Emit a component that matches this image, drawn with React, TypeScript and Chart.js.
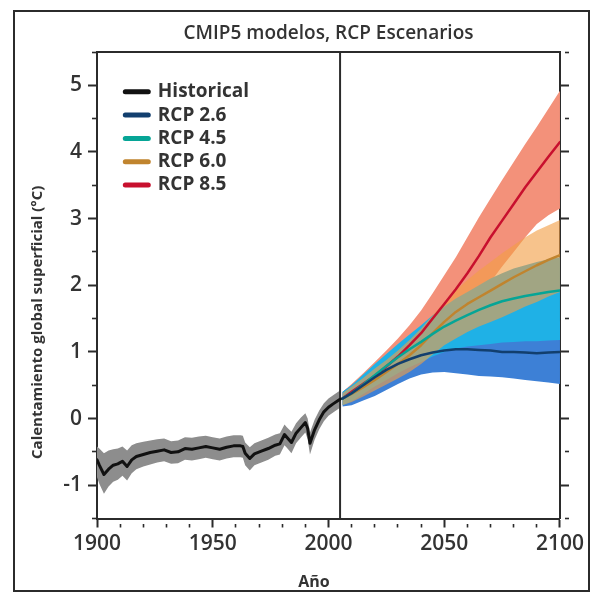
import React, { useEffect, useRef } from 'react';
import { Chart, registerables } from 'chart.js';

Chart.register(...registerables);

// ---------- data ----------
const titleText = 'CMIP5 modelos, RCP Escenarios';
const yTitle = 'Calentamiento global superficial (°C)';
const xTitle = 'Año';

const xTickValues = [1900, 1910, 1920, 1930, 1940, 1950, 1960, 1970, 1980, 1990, 2000, 2010, 2020, 2030, 2040, 2050, 2060, 2070, 2080, 2090, 2100];
const xLabelValues = [1900, 1950, 2000, 2050, 2100];
const yTickValues = [-1.5, -1, -0.5, 0, 0.5, 1, 1.5, 2, 2.5, 3, 3.5, 4, 4.5, 5, 5.5];
const yLabelValues = [-1, 0, 1, 2, 3, 4, 5];
const dividerYear = 2005;

const legendLabels = ['Historical', 'RCP 2.6', 'RCP 4.5', 'RCP 6.0', 'RCP 8.5'];

const histYears = [1900, 1901, 1903, 1905, 1907, 1909, 1911, 1913, 1915, 1917, 1920, 1923, 1926, 1929, 1932, 1935, 1938, 1941, 1944, 1947, 1950, 1953, 1956, 1959, 1962, 1963, 1964, 1966, 1968, 1971, 1974, 1977, 1979, 1981, 1982, 1984, 1986, 1988, 1990, 1991, 1992, 1994, 1996, 1998, 2000, 2002, 2005];
const histMean = [-0.62, -0.70, -0.84, -0.76, -0.70, -0.68, -0.64, -0.72, -0.62, -0.57, -0.54, -0.51, -0.49, -0.47, -0.51, -0.50, -0.45, -0.46, -0.44, -0.42, -0.44, -0.46, -0.43, -0.41, -0.41, -0.42, -0.52, -0.60, -0.53, -0.49, -0.45, -0.40, -0.38, -0.24, -0.28, -0.36, -0.22, -0.14, -0.06, -0.15, -0.37, -0.17, -0.02, 0.10, 0.17, 0.22, 0.29];
const histLow = [-0.88, -0.98, -1.13, -1.02, -0.95, -0.92, -0.86, -0.93, -0.82, -0.76, -0.72, -0.69, -0.66, -0.64, -0.68, -0.67, -0.62, -0.63, -0.61, -0.59, -0.61, -0.63, -0.60, -0.58, -0.58, -0.59, -0.70, -0.78, -0.70, -0.66, -0.62, -0.56, -0.54, -0.40, -0.44, -0.52, -0.37, -0.29, -0.21, -0.31, -0.54, -0.32, -0.16, -0.04, 0.04, 0.09, 0.16];
const histHigh = [-0.42, -0.45, -0.52, -0.48, -0.46, -0.45, -0.42, -0.48, -0.40, -0.37, -0.35, -0.33, -0.31, -0.30, -0.34, -0.33, -0.28, -0.29, -0.27, -0.26, -0.28, -0.30, -0.27, -0.25, -0.25, -0.26, -0.36, -0.43, -0.37, -0.33, -0.29, -0.24, -0.22, -0.09, -0.13, -0.20, -0.07, 0.01, 0.08, 0.00, -0.21, -0.02, 0.12, 0.23, 0.30, 0.35, 0.42];

const futYears = [2006, 2010, 2015, 2020, 2025, 2030, 2035, 2040, 2045, 2050, 2055, 2060, 2065, 2070, 2075, 2080, 2085, 2090, 2095, 2100];

const rcp26Mean = [0.30, 0.38, 0.50, 0.62, 0.73, 0.82, 0.89, 0.95, 0.99, 1.02, 1.04, 1.04, 1.03, 1.02, 1.00, 1.00, 0.99, 0.98, 0.99, 1.00];
const rcp26High = [0.40, 0.50, 0.65, 0.80, 0.93, 1.05, 1.14, 1.22, 1.28, 1.32, 1.35, 1.38, 1.39, 1.40, 1.41, 1.42, 1.43, 1.44, 1.45, 1.46];
const rcp26Low = [0.18, 0.20, 0.27, 0.34, 0.43, 0.52, 0.60, 0.66, 0.69, 0.70, 0.68, 0.66, 0.64, 0.63, 0.62, 0.60, 0.58, 0.56, 0.54, 0.52];

const rcp45Mean = [0.30, 0.38, 0.51, 0.65, 0.79, 0.92, 1.04, 1.15, 1.27, 1.38, 1.47, 1.55, 1.63, 1.70, 1.76, 1.80, 1.84, 1.87, 1.90, 1.92];
const rcp45High = [0.40, 0.50, 0.66, 0.82, 0.97, 1.12, 1.26, 1.40, 1.55, 1.68, 1.80, 1.90, 2.00, 2.10, 2.18, 2.25, 2.30, 2.35, 2.39, 2.42];
const rcp45Low = [0.20, 0.26, 0.37, 0.48, 0.58, 0.68, 0.77, 0.85, 0.93, 1.00, 1.05, 1.08, 1.10, 1.12, 1.14, 1.15, 1.16, 1.16, 1.17, 1.18];

const rcp60Mean = [0.30, 0.37, 0.47, 0.58, 0.70, 0.82, 0.95, 1.10, 1.28, 1.45, 1.60, 1.72, 1.82, 1.92, 2.02, 2.12, 2.21, 2.30, 2.38, 2.45];
const rcp60High = [0.38, 0.48, 0.61, 0.75, 0.88, 1.02, 1.18, 1.35, 1.55, 1.75, 1.92, 2.08, 2.22, 2.35, 2.48, 2.60, 2.72, 2.82, 2.90, 2.98];
const rcp60Low = [0.20, 0.25, 0.33, 0.42, 0.51, 0.60, 0.70, 0.82, 0.96, 1.10, 1.20, 1.30, 1.38, 1.45, 1.52, 1.60, 1.68, 1.75, 1.83, 1.90];

const rcp85Mean = [0.30, 0.40, 0.52, 0.64, 0.78, 0.93, 1.10, 1.28, 1.50, 1.72, 1.94, 2.18, 2.44, 2.72, 2.97, 3.22, 3.47, 3.70, 3.93, 4.15];
const rcp85High = [0.40, 0.52, 0.68, 0.85, 1.02, 1.20, 1.40, 1.62, 1.88, 2.15, 2.42, 2.72, 3.02, 3.30, 3.58, 3.85, 4.12, 4.38, 4.65, 4.92];
const rcp85Low = [0.20, 0.27, 0.36, 0.45, 0.55, 0.65, 0.80, 0.95, 1.12, 1.30, 1.47, 1.65, 1.85, 2.05, 2.28, 2.50, 2.72, 2.92, 3.05, 3.15];

// ---------- styling ----------
const FONT = "'Open Sans', 'Noto Sans', sans-serif";
const TEXT = '#333333';
const AXIS = '#2b2b2b';

const toXY = (xs: number[], ys: number[]) => xs.map((x, i) => ({ x, y: ys[i] }));

const lineDs = (label: string, xs: number[], ys: number[], color: string, width: number, order: number) => ({
  label,
  data: toXY(xs, ys),
  borderColor: color,
  backgroundColor: color,
  borderWidth: width,
  pointRadius: 0,
  fill: false,
  tension: 0,
  borderJoinStyle: 'round',
  borderCapStyle: 'round',
  order,
});

const bandDs = (label: string, xs: number[], lo: number[], hi: number[], color: string, order: number) => [
  {
    label: label + ' max',
    data: toXY(xs, hi),
    borderColor: 'transparent',
    borderWidth: 0,
    pointRadius: 0,
    backgroundColor: color,
    fill: '+1',
    tension: 0,
    order,
  },
  {
    label: label + ' min',
    data: toXY(xs, lo),
    borderColor: 'transparent',
    borderWidth: 0,
    pointRadius: 0,
    fill: false,
    tension: 0,
    order,
  },
];

// legend placed inside the plot, offset from the plot's top-left corner
const LEGEND_DX = 24;
const LEGEND_DY = 26;
const legendShift = {
  id: 'legendShift',
  afterLayout(chart: any) {
    const l = chart.legend;
    const a = chart.chartArea;
    if (l && a) {
      const w = l.width;
      const h = l.height;
      l.left = a.left + LEGEND_DX;
      l.right = l.left + w;
      l.top = a.top + LEGEND_DY;
      l.bottom = l.top + h;
    }
  },
};

const isMajor = (v: number, majors: number[]) => majors.includes(v);

export default function App() {
  const ref = useRef<HTMLCanvasElement | null>(null);

  useEffect(() => {
    if (!ref.current) return;
    const datasets: any[] = [
      lineDs('Historical', histYears, histMean, '#111111', 3, 1),
      lineDs('RCP 2.6', futYears, rcp26Mean, '#123f6e', 2.5, 2),
      lineDs('RCP 4.5', futYears, rcp45Mean, '#06a596', 2.5, 3),
      lineDs('RCP 6.0', futYears, rcp60Mean, '#c0842e', 2.5, 4),
      lineDs('RCP 8.5', futYears, rcp85Mean, '#c8102e', 2.5, 5),
      {
        label: 'divider',
        data: [{ x: dividerYear, y: yTickValues[0] }, { x: dividerYear, y: yTickValues[yTickValues.length - 1] }],
        borderColor: AXIS,
        borderWidth: 2,
        pointRadius: 0,
        fill: false,
        order: 6,
      },
      ...bandDs('RCP 6.0 rango', futYears, rcp60Low, rcp60High, 'rgba(242,158,70,0.62)', 10),
      ...bandDs('RCP 4.5 rango', futYears, rcp45Low, rcp45High, '#1fb1e6', 11),
      ...bandDs('RCP 2.6 rango', futYears, rcp26Low, rcp26High, '#3d80d6', 12),
      ...bandDs('RCP 8.5 rango', futYears, rcp85Low, rcp85High, '#f3917a', 13),
      ...bandDs('Historical rango', histYears, histLow, histHigh, '#8d8d8d', 14),
    ];

    const tickGrid = (majors: number[]) => ({
      display: true,
      drawOnChartArea: false,
      drawTicks: true,
      tickLength: 9,
      tickColor: AXIS,
      tickWidth: (c: any) => (c.tick && isMajor(c.tick.value, majors) ? 2 : 1.6),
      tickBorderDash: (c: any) => (c.tick && isMajor(c.tick.value, majors) ? [] : [5, 4]),
      tickBorderDashOffset: (c: any) => (c.tick && isMajor(c.tick.value, majors) ? 0 : 5),
    });

    const chart = new Chart(ref.current, {
      type: 'line',
      data: { datasets },
      plugins: [legendShift],
      options: {
        animation: false,
        responsive: true,
        maintainAspectRatio: false,
        layout: { padding: 0 },
        plugins: {
          tooltip: { enabled: false },
          title: {
            display: true,
            text: titleText,
            fullSize: false,
            color: TEXT,
            font: { family: FONT, size: 19, weight: '600' },
            padding: { top: 10, bottom: 7.2 },
          },
          legend: {
            display: true,
            position: 'chartArea',
            align: 'start',
            labels: {
              usePointStyle: true,
              pointStyle: 'line',
              pointStyleWidth: 23,
              padding: 4.3,
              color: TEXT,
              font: { family: FONT, size: 19, weight: 'bold' },
              generateLabels: (c: any) => {
                const base = (Chart.defaults as any).plugins.legend.labels.generateLabels(c);
                return base
                  .filter((l: any) => legendLabels.includes(l.text))
                  .sort((a: any, b: any) => legendLabels.indexOf(a.text) - legendLabels.indexOf(b.text))
                  .map((l: any) => ({ ...l, lineWidth: 5, lineCap: 'round', pointStyle: 'line' }));
              },
            },
          },
        },
        scales: {
          x: {
            type: 'linear',
            position: 'bottom',
            min: xTickValues[0],
            max: xTickValues[xTickValues.length - 1],
            afterBuildTicks: (s: any) => {
              s.ticks = xTickValues.map((v) => ({ value: v }));
            },
            afterFit: (s: any) => {
              s.height = 71.5;
            },
            ticks: {
              autoSkip: false,
              maxRotation: 0,
              padding: 4,
              color: TEXT,
              font: { family: FONT, size: 21, weight: '600' },
              callback: (v: any) => (xLabelValues.includes(Number(v)) ? String(v) : ''),
            },
            grid: tickGrid(xLabelValues),
            border: { display: true, color: AXIS, width: 2 },
            title: {
              display: true,
              text: xTitle + '       ',
              color: TEXT,
              font: { family: FONT, size: 16, weight: 'bold', lineHeight: 1 },
              padding: { top: 0, bottom: 0 },
            },
          },
          xTop: {
            type: 'linear',
            position: 'top',
            min: xTickValues[0],
            max: xTickValues[xTickValues.length - 1],
            afterFit: (s: any) => {
              s.height = 0;
            },
            ticks: { display: false },
            grid: { display: true, drawOnChartArea: false, drawTicks: false },
            border: { display: true, color: AXIS, width: 2 },
          },
          y: {
            type: 'linear',
            position: 'left',
            min: yTickValues[0],
            max: yTickValues[yTickValues.length - 1],
            afterBuildTicks: (s: any) => {
              s.ticks = yTickValues.map((v) => ({ value: v }));
            },
            afterFit: (s: any) => {
              s.width = 82;
            },
            ticks: {
              autoSkip: false,
              padding: 6,
              color: TEXT,
              font: { family: FONT, size: 21, weight: '600' },
              callback: (v: any) => (yLabelValues.includes(Number(v)) ? String(v) : ''),
            },
            grid: tickGrid(yLabelValues),
            border: { display: true, color: AXIS, width: 2 },
            title: {
              display: true,
              text: yTitle + '                   ',
              color: TEXT,
              font: { family: FONT, size: 15, weight: 'bold' },
              padding: { top: 14, bottom: 0 },
            },
          },
          yRight: {
            type: 'linear',
            position: 'right',
            min: yTickValues[0],
            max: yTickValues[yTickValues.length - 1],
            afterBuildTicks: (s: any) => {
              s.ticks = yTickValues.map((v) => ({ value: v }));
            },
            afterFit: (s: any) => {
              s.width = 28;
            },
            ticks: { display: false },
            grid: tickGrid(yLabelValues),
            border: { display: true, color: AXIS, width: 2 },
          },
        },
      } as any,
    } as any);

    return () => chart.destroy();
  }, []);

  return (
    <div
      style={{
        position: 'absolute',
        left: 13,
        top: 10,
        width: 577,
        height: 582,
        border: '2px solid #2b2b2b',
        boxSizing: 'border-box',
        background: '#ffffff',
      }}
    >
      <div style={{ position: 'relative', width: 573, height: 578 }}>
        <canvas ref={ref} />
      </div>
    </div>
  );
}
